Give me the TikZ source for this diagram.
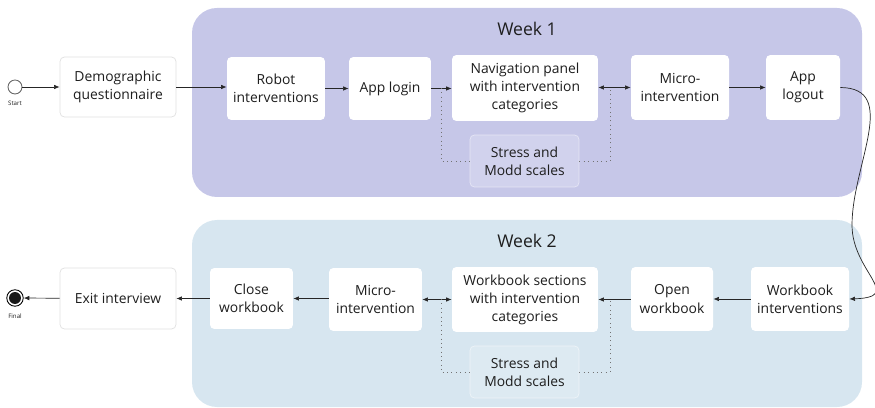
\documentclass[tikz,border=0pt]{standalone}
\usepackage{fontspec}
\setmainfont{Open Sans}
\usetikzlibrary{arrows.meta, positioning}
\usepackage{xcolor}

\definecolor{weekone}{HTML}{C6C7E8}
\definecolor{weektwo}{HTML}{D7E6F0}
\definecolor{scaleone}{HTML}{D1D2ED}
\definecolor{scaletwo}{HTML}{DDEAF2}
\definecolor{txt}{HTML}{1E1E1E}

\begin{document}
\begin{tikzpicture}[x=0.02cm, y=-0.02cm,
  every node/.style={text=txt, font=\fontsize{7.9}{10.3}\selectfont},
  box/.style={fill=white, rounded corners=2.5pt, align=center, inner sep=0pt},
  outbox/.style={box, draw=black!12, line width=0.4pt},
  scalebox/.style={rounded corners=2.5pt, align=center, inner sep=0pt,
    minimum width=2.18cm, minimum height=1.04cm},
  flow/.style={-{Latex[length=3.2pt,width=2.6pt]}, line width=0.4pt, black!85},
  twoway/.style={{Latex[length=3.2pt,width=2.6pt]}-{Latex[length=3.2pt,width=2.6pt]}, line width=0.4pt, black!85},
  dots/.style={dotted, line width=0.5pt, black!55},
  tiny/.style={font=\fontsize{3.5}{4}\selectfont}]

  \useasboundingbox (0,0) rectangle (875,408);

  % the two week panels
  \fill[weekone, rounded corners=0.5cm] (192,8) rectangle (862,197);
  \fill[weektwo, rounded corners=0.5cm] (192,220) rectangle (862,407);
  \node[font=\fontsize{10}{12}\selectfont] (week1) at (527,29) {Week 1};
  \node[font=\fontsize{10}{12}\selectfont] (week2) at (527,241) {Week 2};

  % start and end states
  \node[draw=black!60, circle, minimum size=0.28cm, inner sep=0pt, line width=0.5pt] (start) at (15,87) {};
  \node[tiny, below=0.5pt of start] (startlbl) {Start};
  \node[draw=black, circle, minimum size=0.33cm, inner sep=0pt, line width=0.5pt] (final) at (15,298) {};
  \fill[black!90] (final.center) circle (0.12cm);
  \node[tiny, below=0.5pt of final] (finallbl) {Final};

  % week 1 row
  \node[outbox, minimum width=2.32cm, minimum height=1.2cm] (demo) at (118,87) {Demographic\\questionnaire};
  \node[box, minimum width=1.96cm, minimum height=1.26cm] (robot) at (276,88.5) {Robot\\interventions};
  \node[box, minimum width=1.64cm, minimum height=1.26cm] (login) at (390,88.5) {App login};
  \node[box, minimum width=2.92cm, minimum height=1.32cm] (navpanel) at (525,88) {Navigation panel\\with intervention\\categories};
  \node[box, minimum width=1.96cm, minimum height=1.3cm] (micro1) at (680,87.5) {Micro-\\intervention};
  \node[box, minimum width=1.48cm, minimum height=1.3cm] (logout) at (803,87.5) {App\\logout};
  \node[scalebox, fill=scaleone, draw=scaleone!55!white] (scales1) at (524.5,161) {Stress and\\Modd scales};

  % week 2 row
  \node[box, minimum width=1.96cm, minimum height=1.28cm] (wbint) at (800,299) {Workbook\\interventions};
  \node[box, minimum width=1.64cm, minimum height=1.28cm] (openwb) at (672,299) {Open\\workbook};
  \node[box, minimum width=2.92cm, minimum height=1.3cm] (wbsec) at (525,299.5) {Workbook sections\\with intervention\\categories};
  \node[box, minimum width=1.86cm, minimum height=1.26cm] (micro2) at (375.5,299.5) {Micro-\\intervention};
  \node[box, minimum width=1.66cm, minimum height=1.22cm] (closewb) at (251.5,298.5) {Close\\workbook};
  \node[outbox, minimum width=2.32cm, minimum height=1.22cm] (exitint) at (118,298.5) {Exit interview};
  \node[scalebox, fill=scaletwo, draw=scaletwo!50!white] (scales2) at (524.5,372) {Stress and\\Modd scales};

  % connectors
  \draw[flow] (start) -- (demo);
  \draw[flow] (demo) -- (robot.west |- demo);
  \draw[flow] (robot.east |- login) -- (login);
  \draw[flow] (login) -- (navpanel.west |- login);
  \draw[twoway] (navpanel.east |- micro1) -- (micro1);
  \draw[flow] (micro1) -- (logout);
  \draw[flow] (logout.east) .. controls (900,88) and (852,165) .. (852,225)
    .. controls (852,272) and (905,297) .. (wbint.east);

  \draw[flow] (wbint) -- (openwb.east |- wbint);
  \draw[flow] (openwb.west |- wbsec) -- (wbsec);
  \draw[twoway] (wbsec) -- (micro2.east |- wbsec);
  \draw[flow] (micro2.west |- closewb) -- (closewb);
  \draw[flow] (closewb) -- (exitint);
  \draw[flow] (exitint) -- (final);

  % scales feed back into the flow
  \coordinate (tap1) at (441,88);
  \coordinate (tap2) at (610,88);
  \draw[dots] (tap1) |- (scales1.west);
  \draw[dots] (scales1.east) -| (tap2);
  \coordinate (tap3) at (441,299);
  \coordinate (tap4) at (610,299);
  \draw[dots] (tap3) |- (scales2.west);
  \draw[dots] (scales2.east) -| (tap4);
\end{tikzpicture}
\end{document}
